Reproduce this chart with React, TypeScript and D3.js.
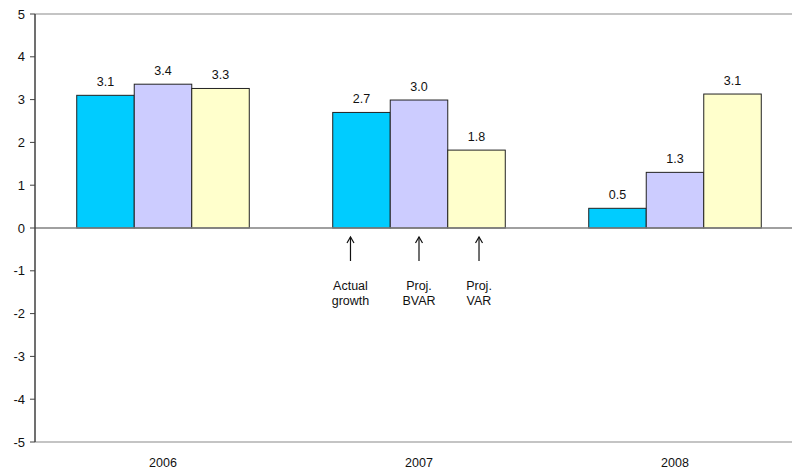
import React from "react";
import * as d3 from "d3";

const years = ["2006", "2007", "2008"];
const seriesNames = ["Actual growth", "Proj. BVAR", "Proj. VAR"];
const actualGrowth = [3.1, 2.7, 0.46];
const projBVAR = [3.36, 2.99, 1.3];
const projVAR = [3.26, 1.82, 3.13];
const labelsActual = ["3.1", "2.7", "0.5"];
const labelsBVAR = ["3.4", "3.0", "1.3"];
const labelsVAR = ["3.3", "1.8", "3.1"];
const yTicks = [5, 4, 3, 2, 1, 0, -1, -2, -3, -4, -5];
const annotationLines = [["Actual", "growth"], ["Proj.", "BVAR"], ["Proj.", "VAR"]];
const colors = ["#00CCFF", "#CCCCFF", "#FFFFCC"];

export default function App() {
  const W = 792, H = 471;
  const left = 35, right = 803, top = 14, bottom = 442;
  const x = d3.scaleBand().domain(years).range([left, right]).paddingInner(0.326).paddingOuter(0.163);
  const y = d3.scaleLinear().domain([-5, 5]).range([bottom, top]);
  const inner = d3.scaleBand().domain(seriesNames).range([0, x.bandwidth()]);
  const series = [
    { name: seriesNames[0], values: actualGrowth, labels: labelsActual },
    { name: seriesNames[1], values: projBVAR, labels: labelsBVAR },
    { name: seriesNames[2], values: projVAR, labels: labelsVAR },
  ];
  const font = "Arial, 'Liberation Sans', sans-serif";
  return (
    <svg width={W} height={H} style={{ position: "absolute", left: 0, top: 0 }} fontFamily={font}>
      <rect width={W} height={H} fill="#fff" />
      <line x1={left} x2={W} y1={y(5)} y2={y(5)} stroke="#b0b0b0" strokeWidth={1.5} />
      <line x1={left} x2={W} y1={y(-5)} y2={y(-5)} stroke="#b0b0b0" strokeWidth={1.5} />
      {series.map((s, si) =>
        years.map((yr, i) => {
          const bx = (x(yr) as number) + (inner(s.name) as number);
          const v = s.values[i];
          return (
            <g key={`${si}-${i}`}>
              <rect x={bx} y={y(Math.max(0, v))} width={inner.bandwidth()} height={Math.abs(y(v) - y(0))}
                fill={colors[si]} stroke="#222" strokeWidth={1} />
              <text x={bx + inner.bandwidth() / 2} y={y(v) - 9} textAnchor="middle" fontSize={12.5} fill="#111">
                {s.labels[i]}
              </text>
            </g>
          );
        })
      )}
      <line x1={left} x2={W} y1={y(0)} y2={y(0)} stroke="#808080" strokeWidth={1.5} />
      <line x1={left} x2={left} y1={y(5)} y2={y(-5)} stroke="#404040" strokeWidth={1.5} />
      {yTicks.map((t) => (
        <g key={t}>
          <line x1={left - 5} x2={left} y1={y(t)} y2={y(t)} stroke="#404040" strokeWidth={1} />
          <text x={left - 10} y={y(t) + 4.5} textAnchor="end" fontSize={13} fill="#111">{t}</text>
        </g>
      ))}
      {years.map((yr) => (
        <text key={yr} x={(x(yr) as number) + x.bandwidth() / 2} y={y(-5) + 25} textAnchor="middle" fontSize={12.5} fill="#111">
          {yr}
        </text>
      ))}
      {seriesNames.map((n, si) => {
        const offs = [-11, 0, 2.5];
        const cx = (x(years[1]) as number) + (inner(n) as number) + inner.bandwidth() / 2 + offs[si];
        return (
          <g key={n}>
            <line x1={cx} x2={cx} y1={y(0) + 9} y2={y(0) + 33} stroke="#111" strokeWidth={1.2} />
            <path d={`M${cx - 3.5},${y(0) + 15} L${cx},${y(0) + 9} L${cx + 3.5},${y(0) + 15}`} fill="none" stroke="#111" strokeWidth={1.2} />
            {annotationLines[si].map((l, li) => (
              <text key={li} x={cx} y={y(0) + 62 + li * 15} textAnchor="middle" fontSize={12.5} fill="#111">{l}</text>
            ))}
          </g>
        );
      })}
    </svg>
  );
}
